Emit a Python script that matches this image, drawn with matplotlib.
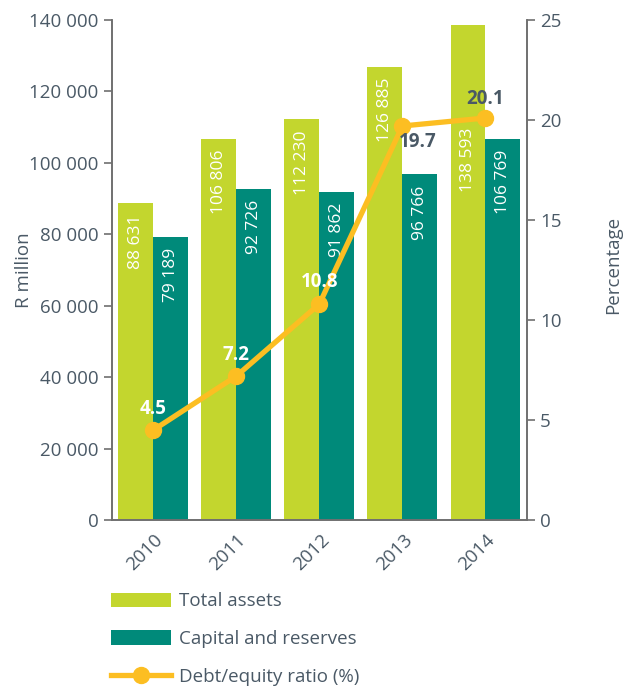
import matplotlib
matplotlib.use("Agg")
import matplotlib.pyplot as plt
import matplotlib.transforms as mtransforms
from matplotlib.patches import Patch
from matplotlib.lines import Line2D
import numpy as np

plt.rcParams["font.family"] = ["Open Sans", "DejaVu Sans"]

# Data
years = ["2010", "2011", "2012", "2013", "2014"]
total_assets = [88631, 106806, 112230, 126885, 138593]
capital_reserves = [79189, 92726, 91862, 96766, 106769]
debt_equity = [4.5, 7.2, 10.8, 19.7, 20.1]
left_ticks = [0, 20000, 40000, 60000, 80000, 100000, 120000, 140000]
right_ticks = [0, 5, 10, 15, 20, 25]

LIME = "#c3d62e"
TEAL = "#008a7a"
GOLD = "#fcbe22"
TEXT = "#4a5966"
SPINE = "#707070"


def fmt_thousands(v):
    return f"{int(v):,}".replace(",", " ")


fig = plt.figure(figsize=(6.28, 6.88), dpi=100)
ax = fig.add_axes([0.178, 0.244, 0.661, 0.727])
ax2 = ax.twinx()

x = np.arange(len(years))
w = 0.42
b1 = ax.bar(x - w / 2, total_assets, width=w, color=LIME, zorder=2)
b2 = ax.bar(x + w / 2, capital_reserves, width=w, color=TEAL, zorder=2)

# vertical gap (points) between bar top and its value label;
# the last total-assets label sits below the ratio line
asset_gaps = [8, 8, 8, 8, 74]
capital_gaps = [8, 8, 8, 8, 8]
for bars, vals, gaps in ((b1, total_assets, asset_gaps),
                         (b2, capital_reserves, capital_gaps)):
    for rect, v, g in zip(bars, vals, gaps):
        ax.annotate(fmt_thousands(v),
                    xy=(rect.get_x() + rect.get_width() / 2, v),
                    xytext=(0, -g), textcoords="offset points",
                    rotation=90, ha="center", va="top",
                    color="white", fontsize=12.5, zorder=3)

ax.set_xlim(-0.5, 4.5)
ax.set_ylim(0, 140000)
ax.set_yticks(left_ticks)
ax.set_yticklabels([fmt_thousands(t) for t in left_ticks])
ax2.set_ylim(0, 25)
ax2.set_yticks(right_ticks)

# Debt/equity line
ax2.plot(x, debt_equity, color=GOLD, lw=3.8, marker="o", markersize=11.5,
         zorder=5)

label_style = [
    # (dx px, dy px, color)
    (0, 21, "white"),
    (0, 21, "white"),
    (0, 22, "white"),
    (15, -16, TEXT),
    (0, 19, TEXT),
]
for xi, v, (dx, dy, c) in zip(x, debt_equity, label_style):
    ax2.annotate(f"{v:.1f}", xy=(xi, v), xytext=(dx * 0.72, dy * 0.72),
                 textcoords="offset points", ha="center", va="center",
                 color=c, fontsize=13.5, fontweight="bold", zorder=6)

for a in (ax, ax2):
    a.spines["top"].set_visible(False)
    for s in ("left", "right", "bottom"):
        a.spines[s].set_color(SPINE)
        a.spines[s].set_linewidth(1.2)
    a.tick_params(axis="y", colors=SPINE, labelcolor=TEXT, labelsize=13.5,
                  length=6, width=1.2, direction="out")
ax.set_zorder(ax2.get_zorder() - 1)
ax2.patch.set_visible(False)

ax.set_xticks(x)
ax.set_xticklabels(years, rotation=45, ha="right", va="center",
                   rotation_mode="anchor", fontsize=13.5, color=TEXT)
ax.tick_params(axis="x", length=0, pad=12)
offset = mtransforms.ScaledTranslation(7 / 100, 0, fig.dpi_scale_trans)
for lbl in ax.get_xticklabels():
    lbl.set_transform(lbl.get_transform() + offset)

ax.set_ylabel("R million", fontsize=13.5, color=TEXT)
ax.yaxis.label.set_va("center")
ax.yaxis.set_label_coords(-0.212, 0.5)
ax2.set_ylabel("Percentage", fontsize=13.5, color=TEXT, rotation=90)
ax2.yaxis.label.set_va("center")
ax2.yaxis.set_label_coords(1.207, 0.51)

handles = [
    Patch(facecolor=LIME, edgecolor="none", label="Total assets"),
    Patch(facecolor=TEAL, edgecolor="none", label="Capital and reserves"),
    Line2D([0], [0], color=GOLD, lw=3.8, marker="o", markersize=11.5,
           label="Debt/equity ratio (%)"),
]
leg = fig.legend(handles=handles, loc="upper left",
                 bbox_to_anchor=(0.177, 0.139), frameon=False,
                 fontsize=13.5, handlelength=3.2, handleheight=0.8,
                 handletextpad=0.4, labelspacing=1.05, borderpad=0,
                 borderaxespad=0, numpoints=1)
for t in leg.get_texts():
    t.set_color(TEXT)

fig.savefig("out.png", dpi=100)
